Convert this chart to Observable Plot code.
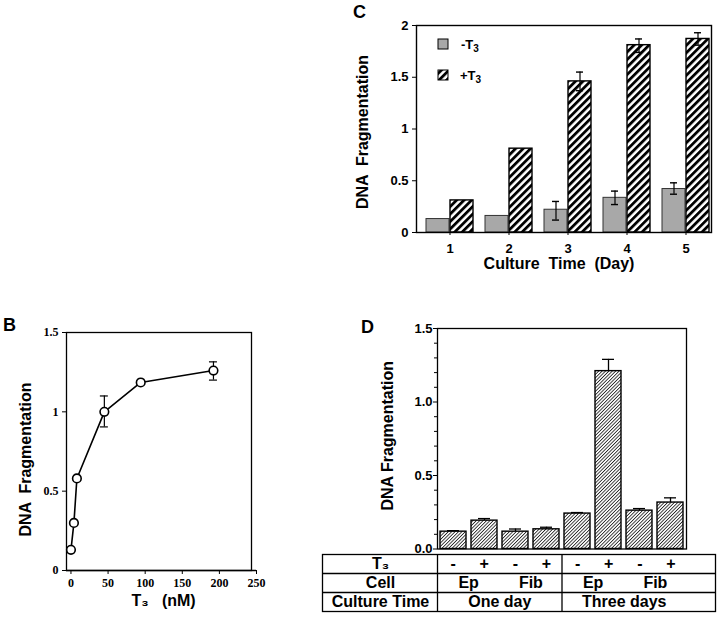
<!DOCTYPE html>
<html><head><meta charset="utf-8">
<script src="https://cdn.jsdelivr.net/npm/d3@7"></script>
<script src="https://cdn.jsdelivr.net/npm/@observablehq/plot@0.6"></script>
<style>
body{margin:0;background:#fff;}
#root{position:relative;width:720px;height:619px;overflow:hidden;font-family:"Liberation Sans",Arial,sans-serif;}
#root > svg{position:absolute;}
</style></head><body>
<svg width="0" height="0" style="position:absolute">
<defs>
<pattern id="hatchC" patternUnits="userSpaceOnUse" width="5.3" height="5.3" patternTransform="rotate(45)">
<rect width="5.3" height="5.3" fill="#fff"/><rect x="0" y="0" width="2.8" height="5.3" fill="#000"/>
</pattern>
<pattern id="hatchD" patternUnits="userSpaceOnUse" width="2.4" height="2.4" patternTransform="rotate(45)">
<rect width="2.4" height="2.4" fill="#fff"/><rect x="0" y="0" width="0.85" height="2.4" fill="#222"/>
</pattern>
</defs></svg>
<div id="root"></div>
<script>
// ---------- Panel B : dose response ----------
const bDose = [0, 4, 8, 45, 94, 192];
const bValue = [0.13, 0.30, 0.58, 1.00, 1.185, 1.26];
const bErrLow = [null, null, null, 0.905, null, 1.20];
const bErrHigh = [null, null, null, 1.10, null, 1.315];
const bXTicks = [0, 50, 100, 150, 200, 250];
const bYTicks = [0, 0.5, 1, 1.5];
const bYTickLabels = ["0", "0.5", "1", "1.5"];

// ---------- Panel C : time course ----------
const cDays = [1, 2, 3, 4, 5];
const cMinusT3 = [0.13, 0.16, 0.22, 0.335, 0.42];
const cMinusErrLow = [null, null, 0.12, 0.27, 0.37];
const cMinusErrHigh = [null, null, 0.30, 0.40, 0.48];
const cPlusT3 = [0.31, 0.81, 1.46, 1.81, 1.87];
const cPlusErrLow = [null, null, 1.37, 1.74, 1.81];
const cPlusErrHigh = [null, null, 1.55, 1.87, 1.93];
const cYTicks = [0, 0.5, 1, 1.5, 2];
const cYTickLabels = ["0", "0.5", "1", "1.5", "2"];

// ---------- Panel D : cell types ----------
const dT3 = ["-", "+", "-", "+", "-", "+", "-", "+"];
const dCell = ["Ep", "Fib", "Ep", "Fib"];
const dCulture = ["One day", "Three days"];
const dRowLabels = ["T\u2083", "Cell", "Culture Time"];
const dValue = [0.118, 0.193, 0.118, 0.134, 0.241, 1.21, 0.261, 0.316];
const dErrHigh = [0.125, 0.207, 0.136, 0.148, 0.248, 1.29, 0.275, 0.348];
const dYTicks = [0, 0.5, 1.0, 1.5];
const dYMinorTicks = [0.1, 0.2, 0.3, 0.4, 0.6, 0.7, 0.8, 0.9, 1.1, 1.2, 1.3, 1.4];

const SANS = '"Liberation Sans", Arial, sans-serif';
const SERIF = '"Liberation Serif", "Times New Roman", serif';
const root = document.getElementById("root");
function place(el, left, top) { el.style.left = left + "px"; el.style.top = top + "px"; root.appendChild(el); }

// ---- B ----
const bData = bDose.map((x, i) => ({x, y: bValue[i], lo: bErrLow[i], hi: bErrHigh[i]}));
const bErr = bData.filter(d => d.lo != null);
const plotB = Plot.plot({
  width: 300, height: 319, marginLeft: 66, marginRight: 44, marginTop: 32, marginBottom: 49,
  style: {fontFamily: SERIF, fontSize: "12px", fontWeight: "bold", background: "transparent", overflow: "visible", color: "#000"},
  x: {domain: [-6, 250]},
  y: {domain: [0, 1.5]},
  marks: [
    Plot.frame({stroke: "#000", strokeWidth: 1.3, insetRight: 5}),
    Plot.ruleY([0], {stroke: "#000", strokeWidth: 1.3}),
    Plot.axisX({ticks: bXTicks, tickFormat: d => String(d), tickSize: 4, tickPadding: 4, label: null}),
    Plot.axisY({ticks: bYTicks, tickFormat: (d, i) => bYTickLabels[i], tickSize: 4, tickPadding: 4, label: null}),
    Plot.ruleX(bErr, {x: "x", y1: "lo", y2: "hi", stroke: "#000", strokeWidth: 1.2}),
    Plot.ruleY(bErr, {y: "hi", x1: "x", x2: "x", insetLeft: -4, insetRight: -4, stroke: "#000", strokeWidth: 1.2}),
    Plot.ruleY(bErr, {y: "lo", x1: "x", x2: "x", insetLeft: -4, insetRight: -4, stroke: "#000", strokeWidth: 1.2}),
    Plot.line(bData, {x: "x", y: "y", stroke: "#000", strokeWidth: 1.6}),
    Plot.dot(bData, {x: "x", y: "y", r: 4.3, fill: "#fff", stroke: "#000", strokeWidth: 1.6}),
    Plot.text(["DNA  Fragmentation"], {frameAnchor: "left", textAnchor: "middle", rotate: -90, dx: -41, dy: 8, fontFamily: SANS, fontSize: 16, fontWeight: "bold"}),
    Plot.text(["T\u2083   (nM)"], {frameAnchor: "bottom", dy: 35, dx: 2, fontFamily: SANS, fontSize: 16, fontWeight: "bold"})
  ]
});
place(plotB, 0, 300);

// ---- C ----
const cData = cDays.map((day, i) => ({day, minus: cMinusT3[i], mlo: cMinusErrLow[i], mhi: cMinusErrHigh[i],
  plus: cPlusT3[i], plo: cPlusErrLow[i], phi: cPlusErrHigh[i]}));
const cMinusErr = cData.filter(d => d.mlo != null);
const cPlusErr = cData.filter(d => d.plo != null);
const plotC = Plot.plot({
  width: 380, height: 290, marginLeft: 76, marginRight: 9, marginTop: 25, marginBottom: 58,
  style: {fontFamily: SANS, fontSize: "13px", fontWeight: "bold", background: "transparent", overflow: "visible", color: "#000"},
  x: {type: "band", domain: cDays, paddingInner: 0.196, paddingOuter: 0.069, align: 0.85},
  y: {domain: [0, 2]},
  marks: [
    Plot.barY(cData, {x: "day", y: "minus", fill: "#a8a8a8", stroke: "#333", strokeWidth: 1, insetRight: 24}),
    Plot.barY(cData, {x: "day", y: "plus", fill: "url(#hatchC)", stroke: "#000", strokeWidth: 1.4, insetLeft: 24}),
    Plot.ruleX(cMinusErr, {x: "day", y1: "mlo", y2: "mhi", dx: -12, stroke: "#000", strokeWidth: 1.2}),
    Plot.tickY(cMinusErr, {x: "day", y: "mhi", insetLeft: 8, insetRight: 32, stroke: "#000", strokeWidth: 1.4}),
    Plot.tickY(cMinusErr, {x: "day", y: "mlo", insetLeft: 8, insetRight: 32, stroke: "#000", strokeWidth: 1.4}),
    Plot.ruleX(cPlusErr, {x: "day", y1: "plo", y2: "phi", dx: 12, stroke: "#000", strokeWidth: 1.2}),
    Plot.tickY(cPlusErr, {x: "day", y: "phi", insetLeft: 32, insetRight: 8, stroke: "#000", strokeWidth: 1.4}),
    Plot.tickY(cPlusErr, {x: "day", y: "plo", insetLeft: 32, insetRight: 8, stroke: "#000", strokeWidth: 1.4}),
    Plot.frame({stroke: "#000", strokeWidth: 1.4}),
    Plot.axisX({tickSize: 3, tickPadding: 8, label: null}),
    Plot.axisY({ticks: cYTicks, tickFormat: (d, i) => cYTickLabels[i], tickSize: 4, tickPadding: 4, label: null}),
    Plot.text(["DNA  Fragmentation"], {frameAnchor: "left", textAnchor: "middle", rotate: -90, dx: -54, dy: 3, fontSize: 16, fontWeight: "bold"}),
    Plot.text(["Culture  Time  (Day)"], {frameAnchor: "bottom", dy: 36, dx: -5, fontSize: 16, fontWeight: "bold"})
  ]
});
place(plotC, 340, 0);

// ---- D ----
const dData = dValue.map((v, i) => ({k: i, v, hi: dErrHigh[i]}));
const plotD = Plot.plot({
  width: 390, height: 245, marginLeft: 107, marginRight: 34, marginTop: 18, marginBottom: 6.5,
  style: {fontFamily: SANS, fontSize: "13px", fontWeight: "bold", background: "transparent", overflow: "visible", color: "#000"},
  x: {type: "band", domain: d3.range(dValue.length), paddingInner: 0.16, paddingOuter: 0.08, axis: null},
  y: {domain: [0, 1.5]},
  marks: [
    Plot.barY(dData, {x: "k", y: "v", fill: "url(#hatchD)", stroke: "#000", strokeWidth: 1.4}),
    Plot.ruleX(dData, {x: "k", y1: "v", y2: "hi", stroke: "#000", strokeWidth: 1.3}),
    Plot.tickY(dData, {x: "k", y: "hi", insetLeft: 7, insetRight: 7, stroke: "#000", strokeWidth: 1.3}),
    Plot.frame({stroke: "#000", strokeWidth: 1.3}),
    Plot.axisY({ticks: dYTicks, tickFormat: d => d.toFixed(1), tickSize: 4, tickPadding: 1, label: null}),
    Plot.axisY({ticks: dYMinorTicks, tickFormat: () => "", tickSize: 3, label: null}),
    Plot.text(["DNA Fragmentation"], {frameAnchor: "left", textAnchor: "middle", rotate: -90, dx: -50, dy: -3, fontSize: 16, fontWeight: "bold"})
  ]
});
place(plotD, 330, 310);

// ---- D table ----
const plotT = Plot.plot({
  width: 395, height: 59, marginLeft: 116, marginRight: 30, marginTop: 1, marginBottom: 1,
  style: {fontFamily: SANS, fontSize: "16px", fontWeight: "bold", background: "transparent", overflow: "visible", color: "#000"},
  x: {domain: [0, dValue.length], axis: null},
  y: {domain: [3, 0], axis: null},
  marks: [
    Plot.frame({stroke: "#000", strokeWidth: 1.3, insetLeft: -115, insetRight: -29}),
    Plot.ruleY([1, 2], {stroke: "#000", strokeWidth: 1.3, insetLeft: -115, insetRight: -29}),
    Plot.ruleX([0, dValue.length / 2], {stroke: "#000", strokeWidth: 1.3}),
    Plot.text(dRowLabels, {frameAnchor: "left", textAnchor: "middle", dx: -57, y: (d, i) => i + 0.5}),
    Plot.text(dT3, {x: (d, i) => i + 0.5, y: () => 0.5}),
    Plot.text(dCell, {x: (d, i) => 2 * i + 1, y: () => 1.5}),
    Plot.text(dCulture, {x: (d, i) => 4 * i + 2, y: () => 2.5})
  ]
});
place(plotT, 321, 553);

// ---- panel letters and legend of C ----
const ns = "http://www.w3.org/2000/svg";
const ov = document.createElementNS(ns, "svg");
ov.setAttribute("width", 720); ov.setAttribute("height", 619);
ov.style.left = "0px"; ov.style.top = "0px"; ov.style.pointerEvents = "none";
ov.innerHTML = `
<g font-family='${SANS}' font-weight="bold" font-size="18">
<text x="3" y="331">B</text><text x="353" y="18">C</text><text x="361" y="333">D</text>
</g>
<g font-family='${SANS}' font-weight="bold" font-size="13">
<rect x="438" y="39" width="10" height="10" fill="#a8a8a8" stroke="#000" stroke-width="1"/>
<text x="461" y="49">-T<tspan font-size="10" dy="3">3</tspan></text>
<rect x="438" y="70" width="10" height="10" fill="url(#hatchC)" stroke="#000" stroke-width="1"/>
<text x="460" y="80">+T<tspan font-size="10" dy="3">3</tspan></text>
</g>`;
root.appendChild(ov);
</script>
</body></html>
